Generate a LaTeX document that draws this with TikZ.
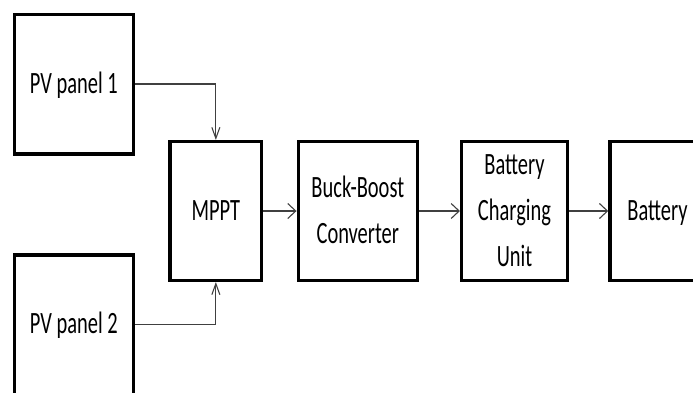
\documentclass[tikz,border=0pt]{standalone}
\usepackage{fontspec}
\setmainfont{Carlito}
\usetikzlibrary{arrows.meta}
\tikzset{
  blk/.style={draw=black, line width=3.5pt, rectangle, inner sep=0pt, fill=white,
    font=\fontsize{31}{46}\selectfont},
  hconn/.style={draw=black!75, line width=1.2pt, -{Straight Barb[length=8pt,width=15pt,line width=1.1pt]}},
  vconn/.style={draw=black!75, line width=1.2pt, -{Straight Barb[length=11pt,width=8pt,line width=1.1pt]}}
}
\newcommand{\sqtext}[1]{\scalebox{0.66}[1]{\begin{tabular}{@{}c@{}}#1\end{tabular}}}
\begin{document}
\begin{tikzpicture}[x=1pt,y=-1pt]
\useasboundingbox (0,0) rectangle (693,392);
\clip (0,0) rectangle (693,392);
\node[blk, minimum width=119pt, minimum height=139.5pt] (pv1) at (73.8,84) {\sqtext{PV panel 1}};
\node[blk, minimum width=119pt, minimum height=139.5pt] (pv2) at (73.8,324.75) {\sqtext{PV panel 2}};
\node[blk, minimum width=91.7pt, minimum height=138.6pt] (mppt) at (215.85,211) {\sqtext{MPPT}};
\node[blk, minimum width=119pt, minimum height=138.6pt] (bb) at (357.8,211) {\sqtext{Buck-Boost\\Converter}};
\node[blk, minimum width=105.6pt, minimum height=138.6pt] (bcu) at (514.5,211) {\sqtext{Battery\\Charging\\Unit}};
\node[blk, minimum width=95pt, minimum height=138.6pt] (bat) at (657.5,211) {\sqtext{Battery}};
\draw[vconn] (pv1.east) -| (mppt.north);
\draw[vconn] (pv2.east) -| (mppt.south);
\draw[hconn] (mppt) -- (bb);
\draw[hconn] (bb) -- (bcu);
\draw[hconn] (bcu) -- (bat);
\end{tikzpicture}
\end{document}
